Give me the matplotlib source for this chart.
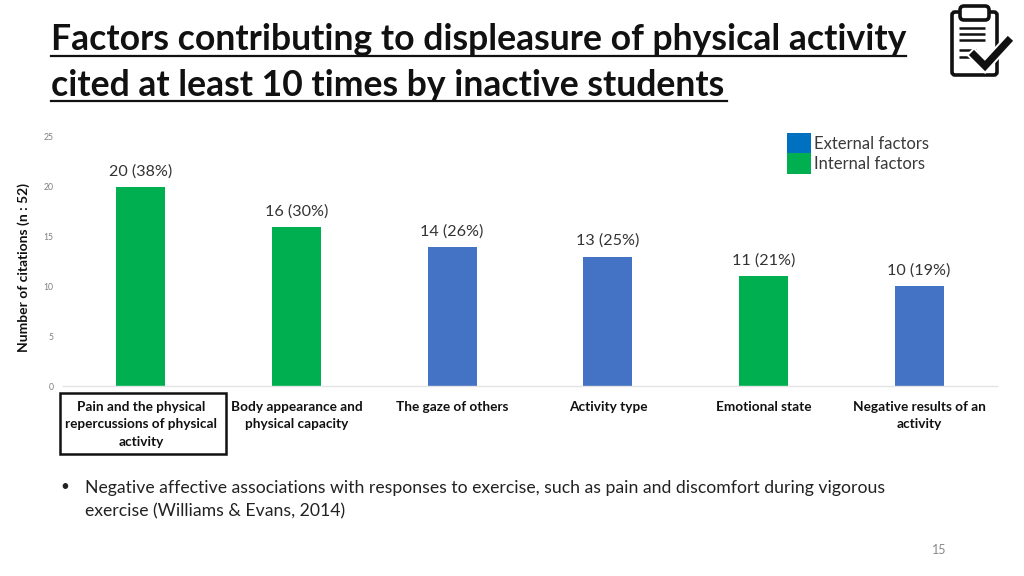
import matplotlib
matplotlib.use("Agg")
import matplotlib.pyplot as plt
from matplotlib.patches import Rectangle, FancyBboxPatch
from matplotlib.lines import Line2D

plt.rcParams['font.family'] = ['Lato', 'DejaVu Sans']

categories = ["Pain and the physical\nrepercussions of physical\nactivity",
              "Body appearance and\nphysical capacity",
              "The gaze of others",
              "Activity type",
              "Emotional state",
              "Negative results of an\nactivity"]
values = [20, 16, 14, 13, 11, 10]
percents = [38, 30, 26, 25, 21, 19]
kinds = ["Internal", "Internal", "External", "External", "Internal", "External"]
colors = {"Internal": "#00B050", "External": "#4472C4"}
yticks = [0, 5, 10, 15, 20, 25]

W, H = 1024, 576
fig = plt.figure(figsize=(W / 100, H / 100), dpi=100, facecolor="white")


def fx(x):
    return x / W


def fy(y):
    return 1 - y / H


def T(x, y, s, **kw):
    kw.setdefault("va", "center")
    return fig.text(fx(x), fy(y), s, **kw)


# Title
T(51, 40, "Factors contributing to displeasure of physical activity",
  fontsize=25.6, fontweight="bold", color="#111111")
T(51, 86, "cited at least 10 times by inactive students",
  fontsize=25.6, fontweight="bold", color="#111111")
fig.add_artist(Line2D([fx(51), fx(906)], [fy(55.5)] * 2, color="#111111", lw=1.6))
fig.add_artist(Line2D([fx(51), fx(727)], [fy(101)] * 2, color="#111111", lw=1.6))

# Chart
ax = fig.add_axes([fx(63), fy(386), (997 - 63) / W, (386 - 137) / H])
positions = range(len(values))
ax.bar(positions, values, width=0.315, color=[colors[k] for k in kinds], zorder=2)
ax.set_xlim(-0.5, len(values) - 0.5)
ax.set_ylim(0, 25)
ax.set_yticks(yticks)
ax.tick_params(axis="y", length=0, labelsize=6.2, labelcolor="#7F7F7F", pad=7)
ax.set_xticks(list(positions))
ax.set_xticklabels(categories, fontsize=9.8, fontweight="bold", color="#111111",
                   linespacing=1.55, va="top")
ax.tick_params(axis="x", length=0, pad=10.5)
for side in ("top", "right", "left"):
    ax.spines[side].set_visible(False)
ax.spines["bottom"].set_color("#E4E4E4")
ax.spines["bottom"].set_linewidth(1)
ax.patch.set_alpha(0)

for p, v, pct in zip(positions, values, percents):
    ax.annotate(f"{v} ({pct}%)", (p, v), xytext=(0, 6), textcoords="offset points",
                ha="center", va="bottom", fontsize=11.6, color="#333333")

T(24, 268, "Number of citations (n : 52)", rotation=90, ha="center",
  fontsize=10, fontweight="bold", color="#111111")

# Highlight box around the first category
fig.add_artist(Rectangle((fx(59.5), fy(454)), 166 / W, 61 / H, fill=False,
                         edgecolor="#111111", lw=1.8))

# Legend
fig.add_artist(Rectangle((fx(787), fy(153)), 24 / W, 20 / H, color="#0070C0", lw=0))
fig.add_artist(Rectangle((fx(787), fy(173.5)), 24 / W, 20.5 / H, color="#00B050", lw=0))
T(814, 144, "External factors", fontsize=12, color="#3A3A3A")
T(814, 164, "Internal factors", fontsize=12, color="#3A3A3A")

# Bullet
T(60, 487, "•", fontsize=11, color="#222222")
T(85, 488, "Negative affective associations with responses to exercise, such as pain and discomfort during vigorous",
  fontsize=12.7, color="#222222")
T(85, 511, "exercise (Williams & Evans, 2014)", fontsize=12.7, color="#222222")

# Page number
T(939, 550, "15", ha="center", fontsize=9, color="#8A8A8A")

# Clipboard icon
icon = fig.add_axes([0, 0, 1, 1], facecolor="none")
icon.set_xlim(0, W)
icon.set_ylim(H, 0)
icon.axis("off")
icon.add_patch(FancyBboxPatch((952, 12), 45, 63, boxstyle="round,pad=0,rounding_size=3",
                              fc="white", ec="#111111", lw=2.6))
icon.add_patch(FancyBboxPatch((960, 6), 29, 14, boxstyle="round,pad=0,rounding_size=4",
                              fc="white", ec="#111111", lw=2.6))
for y, x1 in [(28, 985), (34, 985), (40, 985), (50, 976), (57, 971)]:
    icon.plot([959, x1], [y, y], color="#111111", lw=1.8, solid_capstyle="butt")
icon.plot([974, 985, 1008], [55, 66, 41], color="white", lw=8, solid_joinstyle="miter")
icon.plot([974, 985, 1008], [55, 66, 41], color="#111111", lw=5.2, solid_joinstyle="miter")

fig.savefig("out.png", dpi=100, facecolor="white")
